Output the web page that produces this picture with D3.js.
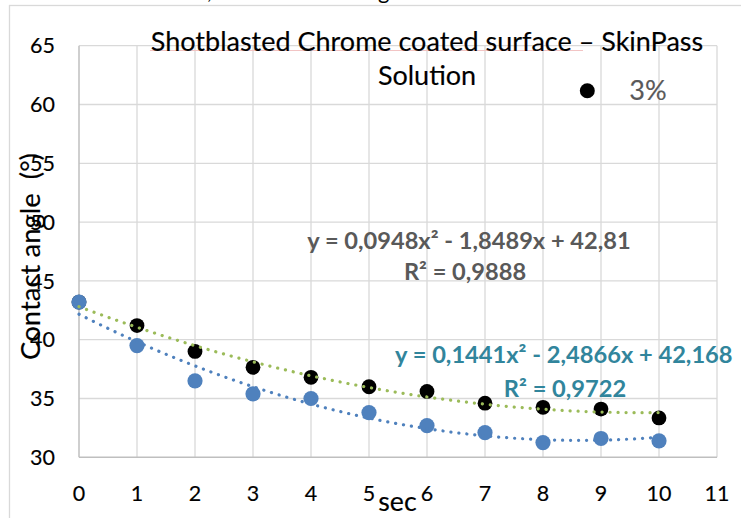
<!DOCTYPE html>
<html>
<head>
<meta charset="utf-8">
<script src="https://cdn.jsdelivr.net/npm/d3@7"></script>
<style>
  html, body { margin: 0; padding: 0; background: #fff; }
  svg { display: block; }
  text { font-family: Lato, "Open Sans", "Liberation Sans", sans-serif; white-space: pre; }
  text.reg { stroke-width: 0.15px; paint-order: stroke; }
</style>
</head>
<body>
<div id="chart"></div>
<script>
// ---- data ----
const seconds = [0, 1, 2, 3, 4, 5, 6, 7, 8, 9, 10];
const angle3pct = [43.2, 41.2, 39.0, 37.65, 36.8, 36.0, 35.6, 34.6, 34.25, 34.1, 33.35];
const angleOther = [43.2, 39.5, 36.5, 35.4, 35.0, 33.8, 32.7, 32.1, 31.25, 31.6, 31.4];
// polynomial trendline coefficients (a x^2 + b x + c) as printed on chart
const trend3pct = [0.0948, -1.8489, 42.81];
const trendOther = [0.1441, -2.4866, 42.168];
const trendLabel3pct = ["y = 0,0948x² - 1,8489x + 42,81", "R² = 0,9888"];
const trendLabelOther = ["y = 0,1441x² - 2,4866x + 42,168", "R² = 0,9722"];
const xTickLabels = [0, 1, 2, 3, 4, 5, 6, 7, 8, 9, 10, 11];
const yTickLabels = [30, 35, 40, 45, 50, 55, 60, 65];
const titleLines = ["Shotblasted Chrome coated surface – SkinPass", "Solution"];
const legendLabel = "3%";
const xTitle = "sec";
const yTitle = "Contact angle  (°)";

// ---- layout ----
const W = 741, H = 518;
const svg = d3.select("#chart").append("svg").attr("width", W).attr("height", H);

const x = d3.scaleLinear().domain([0, 11]).range([79, 717]);
const y = d3.scaleLinear().domain([30, 65]).range([457.3, 45.7]);

// text fitting helper
const meas = svg.append("text").attr("x", -1000).attr("y", -1000);
function fit(str, weight, target) {
  meas.attr("font-weight", weight).attr("font-size", 100).text(str);
  const w = meas.node().getComputedTextLength();
  return 100 * target / w;
}
function reg(sel, col) {
  return sel.attr("class", "reg").attr("fill", col).attr("stroke", col);
}

// surrounding doc fragments (cut off at top, as in the original page)
svg.append("text").attr("x", 207).attr("y", -1).attr("font-size", 22).attr("fill", "#000").text(",");
svg.append("text").attr("x", 378).attr("y", -1).attr("font-size", 22).attr("fill", "#000").text("g");

// chart frame
svg.append("rect").attr("x", 9.5).attr("y", 5.5).attr("width", 800).attr("height", 600)
  .attr("fill", "#fff").attr("stroke", "#D9D9D9").attr("stroke-width", 1.3);

// gridlines
const grid = svg.append("g");
grid.selectAll("line.h").data(yTickLabels.filter(v => v > 30)).join("line")
  .attr("x1", x(0)).attr("x2", x(11)).attr("y1", d => y(d)).attr("y2", d => y(d))
  .attr("stroke", "#D9D9D9").attr("stroke-width", 1.3);
grid.selectAll("line.v").data(xTickLabels.filter(v => v > 0)).join("line")
  .attr("x1", d => x(d)).attr("x2", d => x(d)).attr("y1", y(65)).attr("y2", y(30))
  .attr("stroke", "#D9D9D9").attr("stroke-width", 1.3);
// axis lines
svg.append("line").attr("x1", x(0)).attr("x2", x(0)).attr("y1", y(65)).attr("y2", y(30))
  .attr("stroke", "#BFBFBF").attr("stroke-width", 1.5);
svg.append("line").attr("x1", x(0)).attr("x2", x(11)).attr("y1", y(30)).attr("y2", y(30))
  .attr("stroke", "#BFBFBF").attr("stroke-width", 1.5);

// tick labels
const tickSize = fit("65", 400, 23.3) * 1.07;
reg(svg.append("g").selectAll("text").data(yTickLabels).join("text")
  .attr("x", 55).attr("y", d => y(d)).attr("dy", "0.36em")
  .attr("text-anchor", "end").attr("font-size", tickSize), "#000")
  .text(d => d);
reg(svg.append("g").selectAll("text").data(xTickLabels).join("text")
  .attr("x", d => x(d)).attr("y", 500.5)
  .attr("text-anchor", "middle").attr("font-size", tickSize), "#000")
  .text(d => d);

// axis titles
const ySize = fit(yTitle, 400, 207);
reg(svg.append("text").attr("transform", "translate(39.5,256.5) rotate(-90)")
  .attr("text-anchor", "middle").attr("font-size", ySize), "#000").text(yTitle);
const xSize = fit(xTitle, 400, 38.4);
reg(svg.append("text").attr("x", 397.5).attr("y", 511).attr("text-anchor", "middle")
  .attr("font-size", xSize), "#000").text(xTitle);

// title
const tSize = fit(titleLines[0], 400, 552.6);
svg.append("line").attr("x1", 150).attr("x2", 583).attr("y1", 50.5).attr("y2", 50.5)
  .attr("stroke", "#F2C4C4").attr("stroke-width", 1);
reg(svg.append("text").attr("x", 427).attr("y", 51).attr("text-anchor", "middle")
  .attr("font-size", tSize), "#000").text(titleLines[0]);
reg(svg.append("text").attr("x", 427).attr("y", 85).attr("text-anchor", "middle")
  .attr("font-size", tSize), "#000").text(titleLines[1]);

// points
svg.append("g").selectAll("circle").data(seconds).join("circle")
  .attr("cx", (d) => x(d)).attr("cy", (d, i) => y(angle3pct[i])).attr("r", 7.4).attr("fill", "#000");
svg.append("g").selectAll("circle").data(seconds).join("circle")
  .attr("cx", (d) => x(d)).attr("cy", (d, i) => y(angleOther[i])).attr("r", 7.6).attr("fill", "#4F81BD");

// trendlines
const xs = d3.range(0, 10.0001, 0.1);
const poly = (c) => (t) => c[0] * t * t + c[1] * t + c[2];
const line = d3.line().x(d => x(d[0])).y(d => y(d[1])).curve(d3.curveLinear);
[[trend3pct, "#9BBB59"], [trendOther, "#4F81BD"]].forEach(([c, col]) => {
  const f = poly(c);
  svg.append("path").datum(xs.map(t => [t, f(t)])).attr("d", line)
    .attr("fill", "none").attr("stroke", col).attr("stroke-width", 3.2)
    .attr("stroke-linecap", "round").attr("stroke-dasharray", "0.1 7.9");
});

// trendline labels
const e1 = fit(trendLabel3pct[0], 700, 323.4);
svg.append("text").attr("x", 469).attr("y", 249.3).attr("text-anchor", "middle")
  .attr("font-size", e1).attr("font-weight", 700).attr("fill", "#595959").text(trendLabel3pct[0]);
svg.append("text").attr("x", 465).attr("y", 280).attr("text-anchor", "middle")
  .attr("font-size", e1).attr("font-weight", 700).attr("fill", "#595959").text(trendLabel3pct[1]);
const e2 = fit(trendLabelOther[0], 700, 337.7);
svg.append("text").attr("x", 563.8).attr("y", 363.3).attr("text-anchor", "middle")
  .attr("font-size", e2).attr("font-weight", 700).attr("fill", "#31859C").text(trendLabelOther[0]);
svg.append("text").attr("x", 565).attr("y", 396.7).attr("text-anchor", "middle")
  .attr("font-size", e2).attr("font-weight", 700).attr("fill", "#31859C").text(trendLabelOther[1]);

// legend
svg.append("circle").attr("cx", 587.3).attr("cy", 90.7).attr("r", 7.5).attr("fill", "#000");
const lSize = fit(legendLabel, 400, 37.4);
reg(svg.append("text").attr("x", 629.3).attr("y", 100).attr("font-size", lSize), "#595959")
  .text(legendLabel);

meas.remove();
</script>
</body>
</html>
